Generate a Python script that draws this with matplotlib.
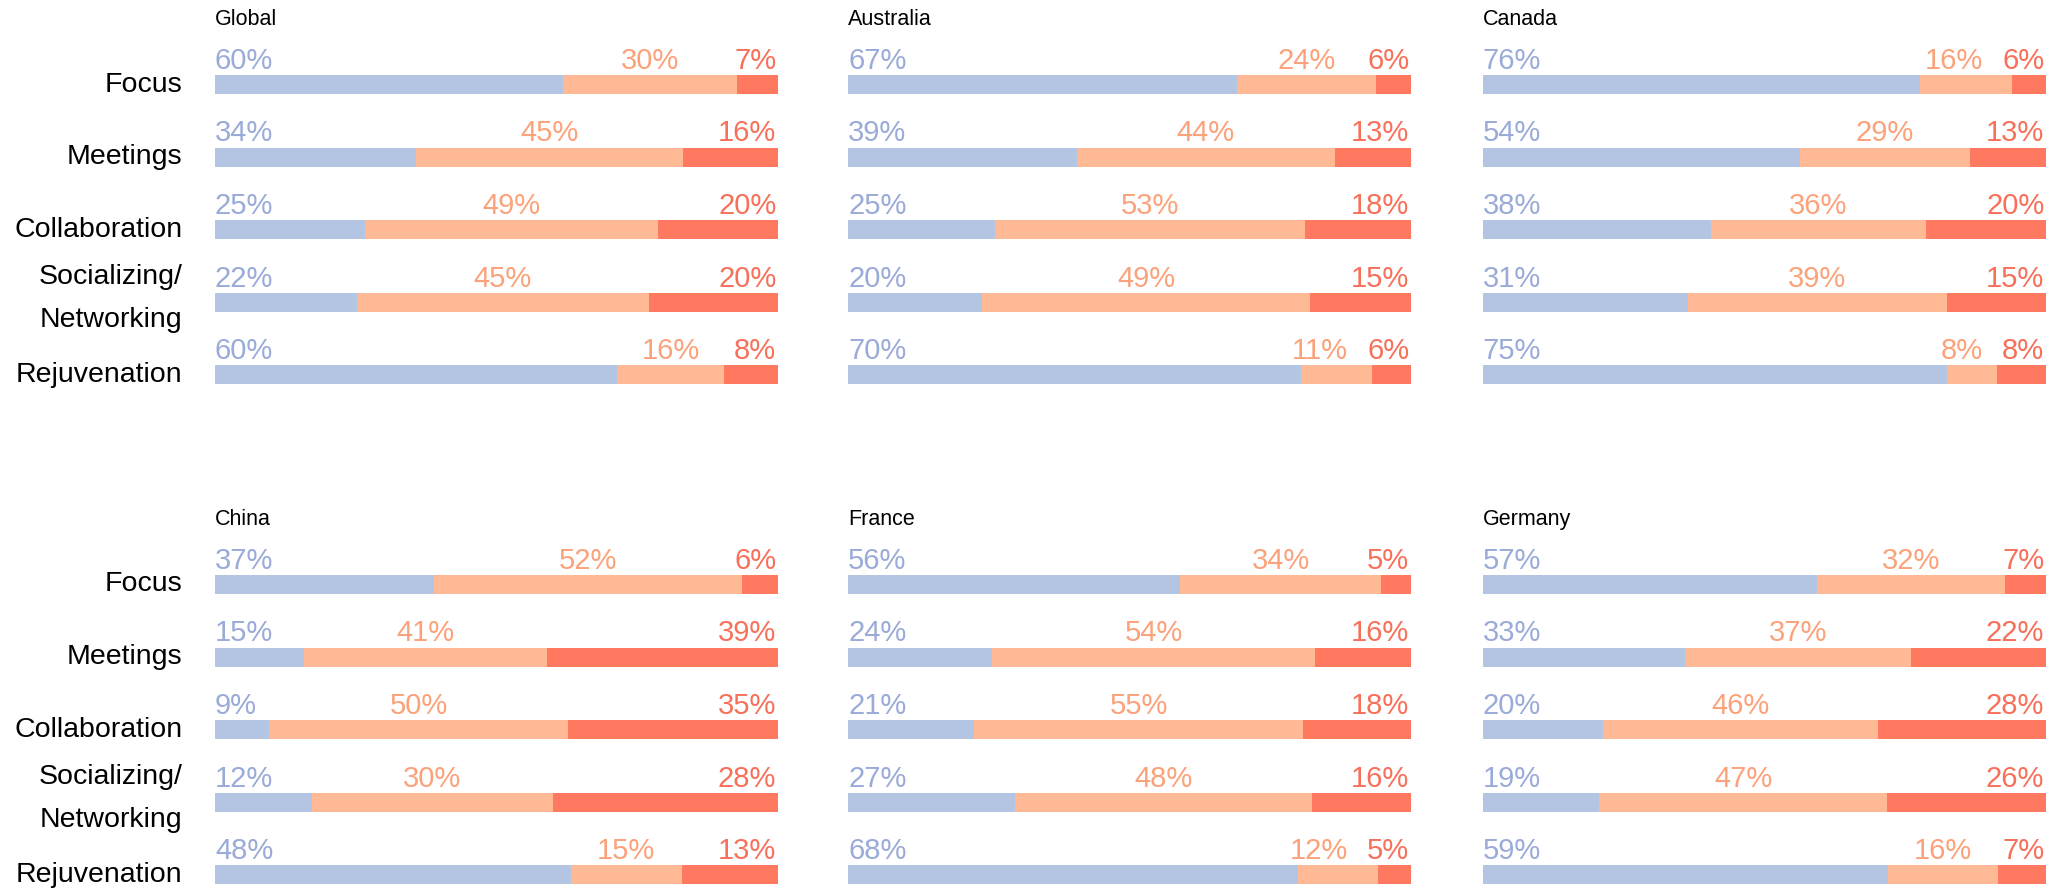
import numpy as np
import matplotlib
matplotlib.use('Agg')
import matplotlib.pyplot as plt

plt.rcParams['font.family'] = ['Liberation Sans', 'DejaVu Sans']

categories = ['Focus', 'Meetings', 'Collaboration', 'Socializing/\nNetworking', 'Rejuvenation']
countries = ['Global', 'Australia', 'Canada', 'China', 'France', 'Germany']

# blue / orange / red shares per category, one list per country
blue = {
    'Global':    [60, 34, 25, 22, 60],
    'Australia': [67, 39, 25, 20, 70],
    'Canada':    [76, 54, 38, 31, 75],
    'China':     [37, 15, 9, 12, 48],
    'France':    [56, 24, 21, 27, 68],
    'Germany':   [57, 33, 20, 19, 59],
}
orange = {
    'Global':    [30, 45, 49, 45, 16],
    'Australia': [24, 44, 53, 49, 11],
    'Canada':    [16, 29, 36, 39, 8],
    'China':     [52, 41, 50, 30, 15],
    'France':    [34, 54, 55, 48, 12],
    'Germany':   [32, 37, 46, 47, 16],
}
red = {
    'Global':    [7, 16, 20, 20, 8],
    'Australia': [6, 13, 18, 15, 6],
    'Canada':    [6, 13, 20, 15, 8],
    'China':     [6, 39, 35, 28, 13],
    'France':    [5, 16, 18, 16, 5],
    'Germany':   [7, 22, 28, 26, 7],
}

bar_colors = ['#b4c5e4', '#ffb994', '#ff7961']
text_colors = ['#9aabd9', '#fba27b', '#f7705a']

W, H = 2069, 889
fig = plt.figure(figsize=(W / 100, H / 100), dpi=100)
renderer = fig.canvas.get_renderer()

# layout in pixels
unit = 72.6              # pixels per category row
col_left = [215, 848, 1483]
col_width = 563
row_first = [84.5, 584.5]  # pixel y of first bar center
ytop, ybot = -1.0, 4.2
gap_px = 19

for i, country in enumerate(countries):
    r, c = divmod(i, 3)
    top_px = row_first[r] + ytop * unit
    h_px = (ybot - ytop) * unit
    ax = fig.add_axes([col_left[c] / W, 1 - (top_px + h_px) / H,
                       col_width / W, h_px / H])
    ax.set_xlim(0, 1)
    ax.set_ylim(ybot, ytop)
    ax.axis('off')
    b = np.array(blue[country], float)
    o = np.array(orange[country], float)
    rd = np.array(red[country], float)
    tot = b + o + rd
    bf, of, rf = b / tot, o / tot, rd / tot
    y = np.arange(len(categories))
    ax.barh(y, bf, height=0.26, color=bar_colors[0])
    ax.barh(y, of, left=bf, height=0.26, color=bar_colors[1])
    ax.barh(y, rf, left=bf + of, height=0.26, color=bar_colors[2])
    for k in range(len(categories)):
        ty = y[k] - 0.215
        ax.text(0, ty, f'{int(b[k])}%', color=text_colors[0], fontsize=21,
                ha='left', va='baseline')
        t_o = ax.text(bf[k] + of[k] / 2, ty, f'{int(o[k])}%', color=text_colors[1],
                      fontsize=21, ha='center', va='baseline')
        t_r = ax.text(0.997, ty, f'{int(rd[k])}%', color=text_colors[2], fontsize=21,
                      ha='right', va='baseline')
        # keep the orange label clear of the red one
        bo = t_o.get_window_extent(renderer)
        br = t_r.get_window_extent(renderer)
        overlap = bo.x1 - (br.x0 - gap_px)
        if overlap > 0:
            t_o.set_x(bf[k] + of[k] / 2 - overlap / col_width)
        if c == 0:
            multi = '\n' in categories[k]
            ax.text(-0.058, y[k] - (0.05 if multi else 0), categories[k],
                    fontsize=20.5, ha='right', va='center', color='black',
                    linespacing=1.85)
    ax.text(0, -0.89, country, fontsize=15.5, ha='left', va='center', color='black')

fig.savefig('out.png', dpi=100)
